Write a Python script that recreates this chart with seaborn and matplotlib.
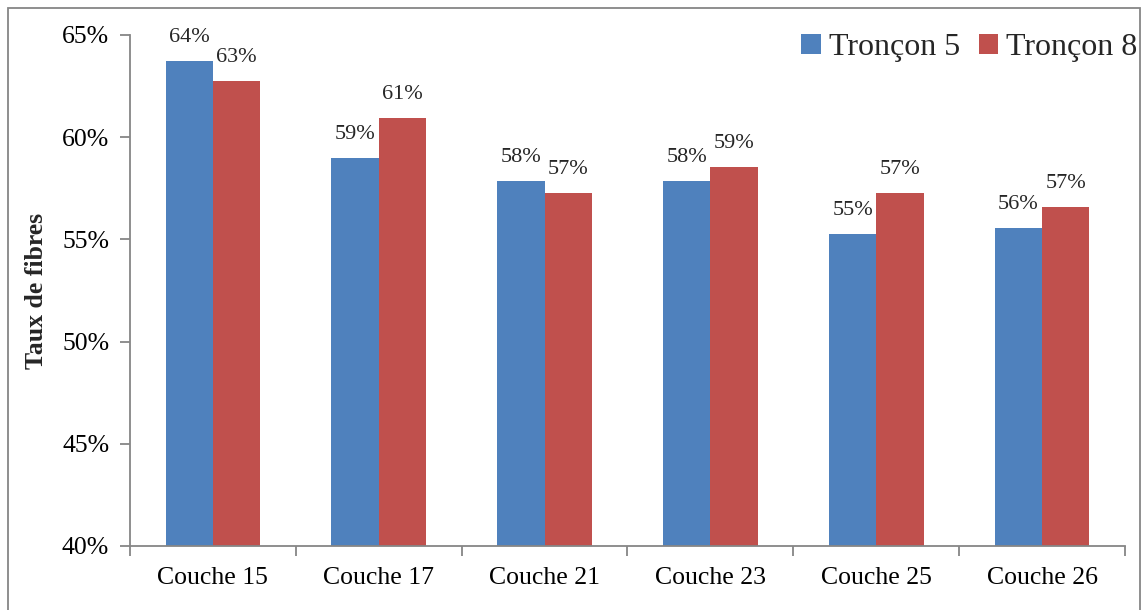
import numpy as np
import pandas as pd
import seaborn as sns
import matplotlib.pyplot as plt
from matplotlib.patches import Rectangle
from matplotlib.ticker import FixedLocator


CATEGORIES = ["Couche 15", "Couche 17", "Couche 21", "Couche 23", "Couche 25", "Couche 26"]
SERIES = ["Tronçon 5", "Tronçon 8"]
TRONCON_5 = [63.73, 58.98, 57.86, 57.86, 55.26, 55.56]
TRONCON_8 = [62.75, 60.94, 57.27, 58.54, 57.27, 56.59]
Y_TICKS = [40, 45, 50, 55, 60, 65]

COLORS = ["#4F81BD", "#C0504D"]
AXIS_GREY = "#868686"


def build_frame() -> pd.DataFrame:
    rows = []
    for series, values in zip(SERIES, [TRONCON_5, TRONCON_8]):
        for cat, val in zip(CATEGORIES, values):
            rows.append({"Couche": cat, "Série": series, "Taux": val})
    return pd.DataFrame(rows)


def main() -> None:
    sns.set_theme(style="white")
    plt.rcParams["font.family"] = ["Liberation Serif", "DejaVu Serif"]

    df = build_frame()

    fig = plt.figure(figsize=(11.43, 6.10), dpi=100)
    ax = fig.add_axes([130 / 1143, 1 - 546 / 610, (1125 - 130) / 1143, (546 - 35) / 610])

    sns.barplot(
        data=df, x="Couche", y="Taux", hue="Série", order=CATEGORIES, hue_order=SERIES,
        palette=COLORS, width=0.57, gap=0, saturation=1, ax=ax, edgecolor="none", linewidth=0,
    )

    for container in ax.containers:
        ax.bar_label(container, labels=[f"{v:.0f}%" for v in container.datavalues],
                     padding=10, fontsize=16)

    ax.set_ylim(40, 65)
    ax.set_xlim(-0.5, len(CATEGORIES) - 0.5)
    ax.set_yticks(Y_TICKS)
    ax.set_yticklabels([f"{t}%" for t in Y_TICKS], fontsize=18.5)
    ax.set_xticks(range(len(CATEGORIES)))
    ax.set_xticklabels(CATEGORIES, fontsize=18.5)
    ax.xaxis.set_minor_locator(FixedLocator(np.arange(-0.5, len(CATEGORIES), 1.0)))
    ax.tick_params(axis="x", which="major", length=0, pad=15, colors="black")
    ax.tick_params(axis="x", which="minor", length=7, width=1.3, direction="out",
                   color=AXIS_GREY, bottom=True)
    ax.tick_params(axis="y", length=7, width=1.3, direction="out", color=AXIS_GREY,
                   left=True, pad=8, labelcolor="black")

    for side in ["top", "right"]:
        ax.spines[side].set_visible(False)
    for side in ["left", "bottom"]:
        ax.spines[side].set_color(AXIS_GREY)
        ax.spines[side].set_linewidth(1.3)

    ax.set_xlabel("")
    ax.set_ylabel("Taux de fibres", fontsize=18.5, fontweight="bold", labelpad=10)
    ax.grid(False)

    ax.legend(loc="upper right", bbox_to_anchor=(1.035, 1.047), ncol=2, frameon=False,
              fontsize=23, handlelength=0.6, handleheight=0.6, handletextpad=0.25,
              columnspacing=0.6, borderaxespad=0.3)

    fig.add_artist(Rectangle((8 / 1143, -0.01), (1140 - 8) / 1143, 1 - 8 / 610 + 0.01,
                             transform=fig.transFigure, fill=False,
                             edgecolor=AXIS_GREY, linewidth=1.3))

    fig.savefig("out.png", dpi=100)
    plt.close(fig)


if __name__ == "__main__":
    main()
